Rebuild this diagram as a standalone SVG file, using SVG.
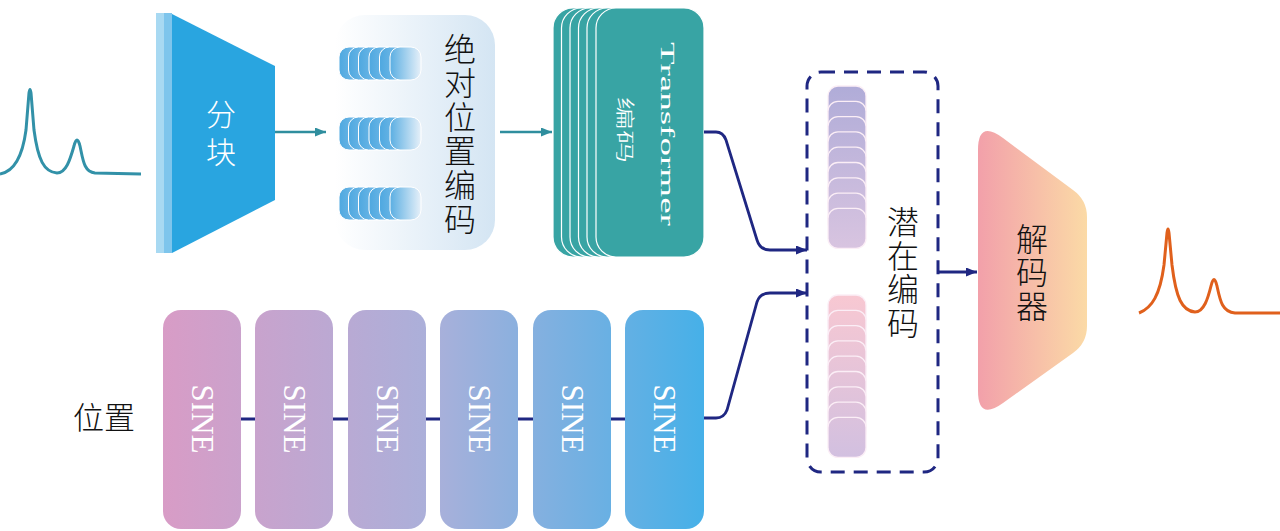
<svg xmlns="http://www.w3.org/2000/svg" width="1280" height="531" viewBox="0 0 1280 531">
<style>
.cjk{font-family:"Noto Sans CJK SC","Noto Sans",sans-serif;font-size:31px;fill:#111;text-anchor:middle;dominant-baseline:central;font-weight:300}
.vt{font-family:"Noto Sans CJK SC","Noto Sans",sans-serif;fill:#111;text-anchor:middle;writing-mode:vertical-rl;font-weight:300}
.cjkw{font-family:"Noto Sans CJK SC","Noto Sans",sans-serif;fill:#fff;text-anchor:middle;dominant-baseline:central;font-weight:300}
.ser{font-family:"Liberation Serif","DejaVu Serif",serif;fill:#fff;text-anchor:middle;dominant-baseline:central}
.teal{fill:none;stroke:#2f8e9e;stroke-width:2.5}
.navy{fill:none;stroke:#1f2782;stroke-width:2.8}
.card{fill:#38a4a4;stroke:#fff;stroke-width:1.2}
.sine{fill:url(#gSine)}
.pill{stroke:#fff;stroke-width:1}
.lat{stroke:#fbeef6;stroke-width:1.3}
</style>
<defs>
<marker id="aT" markerUnits="userSpaceOnUse" markerWidth="12" markerHeight="10" refX="11" refY="4.5" orient="auto"><path d="M0,0 L11,4.5 L0,9 Z" fill="#2f8e9e"/></marker>
<marker id="aN" markerUnits="userSpaceOnUse" markerWidth="12" markerHeight="10" refX="11" refY="4.5" orient="auto"><path d="M0,0 L11,4.5 L0,9 Z" fill="#1f2782"/></marker>
<linearGradient id="gSine" gradientUnits="userSpaceOnUse" x1="163" y1="0" x2="704" y2="0"><stop offset="0" stop-color="#d89cc6"/><stop offset="0.5" stop-color="#aab0da"/><stop offset="1" stop-color="#46b0e8"/></linearGradient>
<linearGradient id="gAbs" x1="0" y1="0" x2="1" y2="0"><stop offset="0" stop-color="#ffffff"/><stop offset="1" stop-color="#d4e5f3"/></linearGradient>
<linearGradient id="gPill" x1="0" y1="0" x2="1" y2="0"><stop offset="0" stop-color="#4ea8e0"/><stop offset="1" stop-color="#8ec6ec"/></linearGradient>
<linearGradient id="gPillF" x1="0" y1="0" x2="1" y2="0"><stop offset="0" stop-color="#5aaee2"/><stop offset="1" stop-color="#e6f0f9"/></linearGradient>
<linearGradient id="gDec" x1="0" y1="0" x2="1" y2="0"><stop offset="0" stop-color="#f2a0aa"/><stop offset="0.55" stop-color="#f7c0a8"/><stop offset="1" stop-color="#fbdaa6"/></linearGradient>
<linearGradient id="gLat1" gradientUnits="userSpaceOnUse" x1="0" y1="86" x2="0" y2="248"><stop offset="0" stop-color="#b0acd8"/><stop offset="1" stop-color="#d8c4e0"/></linearGradient>
<linearGradient id="gLat2" gradientUnits="userSpaceOnUse" x1="0" y1="295" x2="0" y2="457"><stop offset="0" stop-color="#f8c8d2"/><stop offset="1" stop-color="#d2c0e0"/></linearGradient>
</defs>

<g id="input-signal">
<path d="M0,174 C12,172 22,160 26,130 L29,93 Q30,86 31,93 L34,130 C38,160 44,172 57,173 C66,173 70,160 74,146 Q77,134 80,146 C83,160 84,172 95,173 L141,174" fill="none" stroke="#3291a8" stroke-width="3"/>
</g>

<g id="patch">
<rect x="156" y="13" width="16" height="240" fill="#a8d9f2"/>
<rect x="164" y="13" width="8" height="240" fill="#7ec5ec"/>
<path d="M172,14 L275,66 L275,200 L172,253 Z" fill="#29a5e0"/>
<text class="vt" x="221" y="137" font-size="30" style="fill:#fff;letter-spacing:8px">分块</text>
</g>

<g id="abs-pos">
<rect x="335" y="15" width="160" height="235" rx="30" fill="url(#gAbs)"/>
<g id="tok1">
<rect class="pill" x="339" y="47" width="31" height="33" rx="10" fill="url(#gPill)"/>
<rect class="pill" x="348.5" y="47" width="31" height="33" rx="10" fill="url(#gPill)"/>
<rect class="pill" x="358.5" y="47" width="31" height="33" rx="10" fill="url(#gPill)"/>
<rect class="pill" x="369" y="47" width="31" height="33" rx="10" fill="url(#gPill)"/>
<rect class="pill" x="379.5" y="47" width="31" height="33" rx="10" fill="url(#gPill)"/>
<rect class="pill" x="390" y="47" width="31" height="33" rx="10" fill="url(#gPillF)"/>
</g>
<g id="tok2">
<rect class="pill" x="339" y="117" width="31" height="33" rx="10" fill="url(#gPill)"/>
<rect class="pill" x="348.5" y="117" width="31" height="33" rx="10" fill="url(#gPill)"/>
<rect class="pill" x="358.5" y="117" width="31" height="33" rx="10" fill="url(#gPill)"/>
<rect class="pill" x="369" y="117" width="31" height="33" rx="10" fill="url(#gPill)"/>
<rect class="pill" x="379.5" y="117" width="31" height="33" rx="10" fill="url(#gPill)"/>
<rect class="pill" x="390" y="117" width="31" height="33" rx="10" fill="url(#gPillF)"/>
</g>
<g id="tok3">
<rect class="pill" x="339" y="187" width="31" height="33" rx="10" fill="url(#gPill)"/>
<rect class="pill" x="348.5" y="187" width="31" height="33" rx="10" fill="url(#gPill)"/>
<rect class="pill" x="358.5" y="187" width="31" height="33" rx="10" fill="url(#gPill)"/>
<rect class="pill" x="369" y="187" width="31" height="33" rx="10" fill="url(#gPill)"/>
<rect class="pill" x="379.5" y="187" width="31" height="33" rx="10" fill="url(#gPill)"/>
<rect class="pill" x="390" y="187" width="31" height="33" rx="10" fill="url(#gPillF)"/>
</g>
<text class="vt" x="460" y="135" font-size="32" style="letter-spacing:2px">绝对位置编码</text>
</g>

<g id="transformer">
<rect class="card" x="553" y="8" width="108" height="249" rx="20"/>
<rect class="card" x="561.5" y="8" width="108" height="249" rx="20"/>
<rect class="card" x="570" y="8" width="108" height="249" rx="20"/>
<rect class="card" x="578.5" y="8" width="108" height="249" rx="20"/>
<rect class="card" x="587" y="8" width="108" height="249" rx="20"/>
<rect class="card" x="596" y="8" width="108" height="249" rx="20"/>
<text class="ser" font-size="19" transform="translate(667,134) rotate(90) scale(1.95,1)">Transformer</text>
<text class="cjkw" font-size="19" transform="translate(626,130) rotate(90) scale(1.75,1)">编码</text>
</g>

<g id="sine-blocks">
<rect class="sine" x="163" y="310" width="78" height="219" rx="18"/>
<rect class="sine" x="255" y="310" width="78" height="219" rx="18"/>
<rect class="sine" x="348" y="310" width="78" height="219" rx="18"/>
<rect class="sine" x="440" y="310" width="78" height="219" rx="18"/>
<rect class="sine" x="533" y="310" width="78" height="219" rx="18"/>
<rect class="sine" x="625" y="310" width="79" height="219" rx="18"/>
<text class="ser" font-size="31" transform="translate(202,419) rotate(90)">SINE</text>
<text class="ser" font-size="31" transform="translate(294,419) rotate(90)">SINE</text>
<text class="ser" font-size="31" transform="translate(387,419) rotate(90)">SINE</text>
<text class="ser" font-size="31" transform="translate(479,419) rotate(90)">SINE</text>
<text class="ser" font-size="31" transform="translate(572,419) rotate(90)">SINE</text>
<text class="ser" font-size="31" transform="translate(664,419) rotate(90)">SINE</text>
</g>

<g id="pos-label">
<text class="cjk" x="104" y="415" font-size="32">位置</text>
</g>

<g id="latent">
<rect x="807" y="72" width="131" height="400" rx="14" fill="none" stroke="#1f2782" stroke-width="3" stroke-dasharray="14 9"/>
<g fill="url(#gLat1)">
<rect class="lat" x="828" y="86" width="38" height="40" rx="10"/>
<rect class="lat" x="828" y="101.3" width="38" height="40" rx="10"/>
<rect class="lat" x="828" y="116.6" width="38" height="40" rx="10"/>
<rect class="lat" x="828" y="131.9" width="38" height="40" rx="10"/>
<rect class="lat" x="828" y="147.2" width="38" height="40" rx="10"/>
<rect class="lat" x="828" y="162.5" width="38" height="40" rx="10"/>
<rect class="lat" x="828" y="177.8" width="38" height="40" rx="10"/>
<rect class="lat" x="828" y="193.1" width="38" height="40" rx="10"/>
<rect class="lat" x="828" y="208.4" width="38" height="40" rx="10"/>
</g>
<g fill="url(#gLat2)">
<rect class="lat" x="828" y="295" width="38" height="40" rx="10"/>
<rect class="lat" x="828" y="310.3" width="38" height="40" rx="10"/>
<rect class="lat" x="828" y="325.6" width="38" height="40" rx="10"/>
<rect class="lat" x="828" y="340.9" width="38" height="40" rx="10"/>
<rect class="lat" x="828" y="356.2" width="38" height="40" rx="10"/>
<rect class="lat" x="828" y="371.5" width="38" height="40" rx="10"/>
<rect class="lat" x="828" y="386.8" width="38" height="40" rx="10"/>
<rect class="lat" x="828" y="402.1" width="38" height="40" rx="10"/>
<rect class="lat" x="828" y="417.4" width="38" height="40" rx="10"/>
</g>
<text class="vt" x="903" y="273" font-size="32" style="letter-spacing:1.5px">潜在编码</text>
</g>

<g id="decoder">
<path d="M978,150 Q978,119.5 1003,138 L1073,190 Q1087,200 1087,217 L1087,326 Q1087,343 1073,353 L1003,403 Q978,421 978,391 Z" fill="url(#gDec)"/>
<text class="vt" x="1032" y="273" font-size="32" style="letter-spacing:1.5px">解码器</text>
</g>

<g id="output-signal">
<path d="M1139,313 C1152,308 1160,295 1164,265 L1167,233 Q1168,225 1169,233 L1172,265 C1176,298 1182,311 1195,312 C1204,312 1208,298 1211,286 Q1214,273 1217,286 C1220,300 1222,312 1235,313 L1280,313" fill="none" stroke="#e0601c" stroke-width="3"/>
</g>

<g id="connectors">
<path class="teal" d="M275,132 L326,132" marker-end="url(#aT)"/>
<path class="teal" d="M500,132 L552,132" marker-end="url(#aT)"/>
<path class="navy" d="M704,132 L716,132 Q723,132 726,140 L757,240 Q760,250 770,250 L807,250" marker-end="url(#aN)"/>
<path class="navy" d="M704,418 L716,418 Q724,418 727,410 L757,302 Q760,293 770,293 L807,293" marker-end="url(#aN)"/>
<path class="navy" d="M241,419 L255,419 M333,419 L348,419 M426,419 L440,419 M518,419 L533,419 M611,419 L625,419"/>
<path class="navy" d="M938,272 L977,272" marker-end="url(#aN)"/>
</g>
</svg>
